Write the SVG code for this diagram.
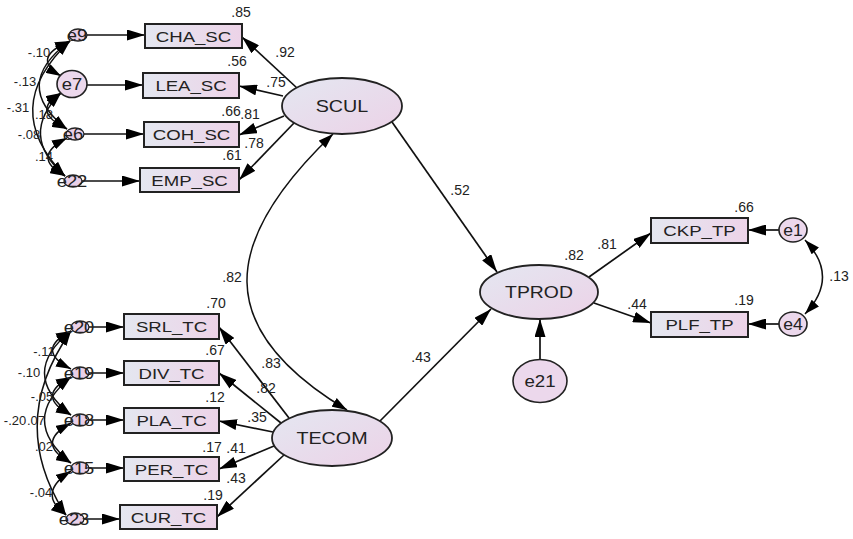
<svg xmlns="http://www.w3.org/2000/svg" width="853" height="539" viewBox="0 0 853 539">
<defs>
<linearGradient id="gBox" x1="0" y1="0" x2="1" y2="0">
<stop offset="0" stop-color="#e4e7f0"/>
<stop offset="1" stop-color="#edd3e8"/>
</linearGradient>
<linearGradient id="gEll" x1="0" y1="0" x2="1" y2="1">
<stop offset="0" stop-color="#e4e7f1"/>
<stop offset="1" stop-color="#ecd2e7"/>
</linearGradient>
<marker id="ah" viewBox="0 0 18 11" refX="18" refY="5.5" markerWidth="18" markerHeight="11" orient="auto-start-reverse" markerUnits="userSpaceOnUse">
<path d="M0,0 L18,5.5 L0,11 z" fill="#000"/>
</marker>
<marker id="ahs" viewBox="0 0 15 10" refX="15" refY="5" markerWidth="15" markerHeight="10" orient="auto-start-reverse" markerUnits="userSpaceOnUse">
<path d="M0,0 L15,5 L0,10 z" fill="#000"/>
</marker>
</defs>
<style>
.box{fill:url(#gBox);stroke:#222;stroke-width:2}
.lat{fill:url(#gEll);stroke:#222;stroke-width:1.8}
.err{fill:#ecd8ec;stroke:#222;stroke-width:1.6}
.errs{fill:#e9d0e8;stroke:#222;stroke-width:1.3}
.ln{fill:none;stroke:#111;stroke-width:1.7;marker-end:url(#ah)}
.cv{fill:none;stroke:#111;stroke-width:1.5;marker-start:url(#ahs);marker-end:url(#ahs)}
.bl{font-family:"Liberation Sans",Arial,sans-serif;font-size:15px;fill:#222;text-anchor:middle}
.ll{font-family:"Liberation Sans",Arial,sans-serif;font-size:17px;fill:#222;text-anchor:middle}
.el{font-family:"Liberation Sans",Arial,sans-serif;font-size:16px;fill:#222;text-anchor:middle}
.nm{font-family:"Liberation Sans",Arial,sans-serif;font-size:14px;fill:#222;text-anchor:middle}
.nc{font-family:"Liberation Sans",Arial,sans-serif;font-size:13px;fill:#222;text-anchor:middle}
</style>
<rect width="853" height="539" fill="#fff"/>
<g id="connectors">
<line class="ln" x1="86" y1="35" x2="145" y2="35"/>
<line class="ln" x1="87" y1="85" x2="143" y2="85"/>
<line class="ln" x1="82" y1="134" x2="144" y2="134"/>
<line class="ln" x1="81" y1="181" x2="140" y2="181"/>
<line class="ln" x1="88" y1="327" x2="124" y2="327"/>
<line class="ln" x1="88" y1="373" x2="124" y2="373"/>
<line class="ln" x1="88" y1="420" x2="124" y2="420"/>
<line class="ln" x1="88" y1="468" x2="124" y2="468"/>
<line class="ln" x1="83" y1="519" x2="120" y2="519"/>
<line class="ln" x1="297" y1="88" x2="242" y2="37"/>
<line class="ln" x1="283" y1="96" x2="239" y2="86"/>
<line class="ln" x1="284" y1="116" x2="239" y2="135"/>
<line class="ln" x1="294" y1="123" x2="239" y2="180"/>
<line class="ln" x1="289" y1="418" x2="219" y2="327"/>
<line class="ln" x1="281" y1="423" x2="219" y2="373"/>
<line class="ln" x1="273" y1="432" x2="219" y2="421"/>
<line class="ln" x1="274" y1="446" x2="219" y2="469"/>
<line class="ln" x1="284" y1="455" x2="217" y2="517"/>
<line class="ln" x1="392" y1="122" x2="497" y2="272"/>
<line class="ln" x1="380" y1="421" x2="491" y2="309"/>
<line class="ln" x1="589" y1="277" x2="651" y2="233"/>
<line class="ln" x1="594" y1="303" x2="651" y2="323"/>
<line class="ln" x1="540" y1="360" x2="540" y2="319"/>
<line class="ln" x1="779" y1="230" x2="748" y2="230"/>
<line class="ln" x1="779" y1="324" x2="748" y2="324"/>
<path class="cv" d="M333,134 C220,242 212,329 347,410"/>
<path class="cv" d="M805,240 Q840,277 805,314"/>
<path class="cv" d="M70,41 Q30,58 61,76"/>
<path class="cv" d="M70,41 Q10,85 67,129"/>
<path class="cv" d="M70,41 Q-2,108 65,176"/>
<path class="cv" d="M61,93 Q30,111 67,129"/>
<path class="cv" d="M61,93 Q18,135 65,176"/>
<path class="cv" d="M67,138 Q30,157 65,176"/>
<path class="cv" d="M71,331 Q34,350 71,369"/>
<path class="cv" d="M71,377 Q34,396 71,415"/>
<path class="cv" d="M71,423 Q34,443 71,463"/>
<path class="cv" d="M71,471 Q36,493 66,515"/>
<path class="cv" d="M71,331 Q18,373 71,415"/>
<path class="cv" d="M71,377 Q18,420 71,463"/>
<path class="cv" d="M71,331 Q6,423 66,515"/>
</g>
<g id="CHA_SC"><rect class="box" x="145" y="24" width="97" height="24"/><text class="bl" transform="translate(193.5,41.5) scale(1.24,1)">CHA_SC</text></g>
<g id="LEA_SC"><rect class="box" x="143" y="73" width="96" height="25"/><text class="bl" transform="translate(191,91) scale(1.24,1)">LEA_SC</text></g>
<g id="COH_SC"><rect class="box" x="144" y="122" width="95" height="25"/><text class="bl" transform="translate(191.5,140) scale(1.24,1)">COH_SC</text></g>
<g id="EMP_SC"><rect class="box" x="140" y="168" width="99" height="24"/><text class="bl" transform="translate(189.5,185.5) scale(1.24,1)">EMP_SC</text></g>
<g id="SRL_TC"><rect class="box" x="124" y="314" width="95" height="25"/><text class="bl" transform="translate(171.5,332) scale(1.24,1)">SRL_TC</text></g>
<g id="DIV_TC"><rect class="box" x="124" y="361" width="95" height="24"/><text class="bl" transform="translate(171.5,378.5) scale(1.24,1)">DIV_TC</text></g>
<g id="PLA_TC"><rect class="box" x="124" y="408" width="95" height="25"/><text class="bl" transform="translate(171.5,426) scale(1.24,1)">PLA_TC</text></g>
<g id="PER_TC"><rect class="box" x="124" y="457" width="95" height="24"/><text class="bl" transform="translate(171.5,474.5) scale(1.24,1)">PER_TC</text></g>
<g id="CUR_TC"><rect class="box" x="120" y="505" width="97" height="24"/><text class="bl" transform="translate(168.5,522.5) scale(1.24,1)">CUR_TC</text></g>
<g id="CKP_TP"><rect class="box" x="651" y="218" width="97" height="25"/><text class="bl" transform="translate(699.5,236) scale(1.24,1)">CKP_TP</text></g>
<g id="PLF_TP"><rect class="box" x="651" y="312" width="97" height="25"/><text class="bl" transform="translate(699.5,330) scale(1.24,1)">PLF_TP</text></g>
<g id="SCUL"><ellipse class="lat" cx="342" cy="106" rx="60" ry="28"/><text class="ll" transform="translate(342,112) scale(1.16,1)">SCUL</text></g>
<g id="TECOM"><ellipse class="lat" cx="332" cy="438" rx="60" ry="28"/><text class="ll" transform="translate(332,444) scale(1.16,1)">TECOM</text></g>
<g id="TPROD"><ellipse class="lat" cx="539" cy="292" rx="59" ry="27"/><text class="ll" transform="translate(539,298) scale(1.14,1)">TPROD</text></g>
<g id="e9"><ellipse class="errs" cx="78" cy="35" rx="9" ry="6"/><text class="el" transform="translate(77,40.5) scale(1.15,1)">e9</text></g>
<g id="e7"><ellipse class="err" cx="72" cy="84" rx="15" ry="13.5"/><text class="el" transform="translate(72,90) scale(1.15,1)">e7</text></g>
<g id="e6"><ellipse class="errs" cx="75" cy="134" rx="9" ry="6"/><text class="el" transform="translate(73,139.5) scale(1.15,1)">e6</text></g>
<g id="e22"><ellipse class="errs" cx="73" cy="181" rx="9" ry="6"/><text class="el" transform="translate(72,186.5) scale(1.15,1)">e22</text></g>
<g id="e20"><ellipse class="errs" cx="80" cy="327" rx="9" ry="6"/><text class="el" transform="translate(79,332.5) scale(1.15,1)">e20</text></g>
<g id="e19"><ellipse class="errs" cx="80" cy="373" rx="9" ry="6"/><text class="el" transform="translate(79,378.5) scale(1.15,1)">e19</text></g>
<g id="e18"><ellipse class="errs" cx="80" cy="420" rx="9" ry="6"/><text class="el" transform="translate(79,425.5) scale(1.15,1)">e18</text></g>
<g id="e15"><ellipse class="errs" cx="80" cy="468" rx="9" ry="6"/><text class="el" transform="translate(79,473.5) scale(1.15,1)">e15</text></g>
<g id="e23"><ellipse class="errs" cx="75" cy="519" rx="9" ry="6"/><text class="el" transform="translate(74,524.5) scale(1.15,1)">e23</text></g>
<g id="e1"><ellipse class="err" cx="793" cy="230" rx="14" ry="12"/><text class="el" transform="translate(793,236) scale(1.1,1)">e1</text></g>
<g id="e4"><ellipse class="err" cx="793" cy="324" rx="14" ry="12"/><text class="el" transform="translate(793,330) scale(1.1,1)">e4</text></g>
<g id="e21"><ellipse class="err" cx="540" cy="381" rx="27" ry="21.5"/><text class="el" style="font-size:17px" transform="translate(540,387) scale(1.1,1)">e21</text></g>
<g id="labels">
<text class="nm" x="241" y="17">.85</text>
<text class="nm" x="237" y="66">.56</text>
<text class="nm" x="231" y="116">.66</text>
<text class="nm" x="250" y="119">.81</text>
<text class="nm" x="254" y="148">.78</text>
<text class="nm" x="232" y="160">.61</text>
<text class="nm" x="285" y="57">.92</text>
<text class="nm" x="276" y="87">.75</text>
<text class="nm" x="232" y="282">.82</text>
<text class="nm" x="460" y="195">.52</text>
<text class="nm" x="421" y="362">.43</text>
<text class="nm" x="271" y="368">.83</text>
<text class="nm" x="266" y="393">.82</text>
<text class="nm" x="257" y="422">.35</text>
<text class="nm" x="236" y="453">.41</text>
<text class="nm" x="236" y="483">.43</text>
<text class="nm" x="216" y="308">.70</text>
<text class="nm" x="215" y="355">.67</text>
<text class="nm" x="215" y="402">.12</text>
<text class="nm" x="212" y="452">.17</text>
<text class="nm" x="213" y="500">.19</text>
<text class="nm" x="574" y="260">.82</text>
<text class="nm" x="607" y="249">.81</text>
<text class="nm" x="744" y="212">.66</text>
<text class="nm" x="637" y="309">.44</text>
<text class="nm" x="744" y="305">.19</text>
<text class="nm" x="839" y="281">.13</text>
<text class="nc" x="39" y="57">-.10</text>
<text class="nc" x="25" y="86">-.13</text>
<text class="nc" x="18" y="112">-.31</text>
<text class="nc" x="44" y="119">.18</text>
<text class="nc" x="29" y="139">-.08</text>
<text class="nc" x="44" y="161">.14</text>
<text class="nc" x="44" y="356">-.11</text>
<text class="nc" x="29" y="377">-.10</text>
<text class="nc" x="42" y="401">-.05</text>
<text class="nc" x="15" y="425">-.20</text>
<text class="nc" x="36" y="425">.07</text>
<text class="nc" x="44" y="451">.02</text>
<text class="nc" x="41" y="497">-.04</text>
</g>
</svg>
